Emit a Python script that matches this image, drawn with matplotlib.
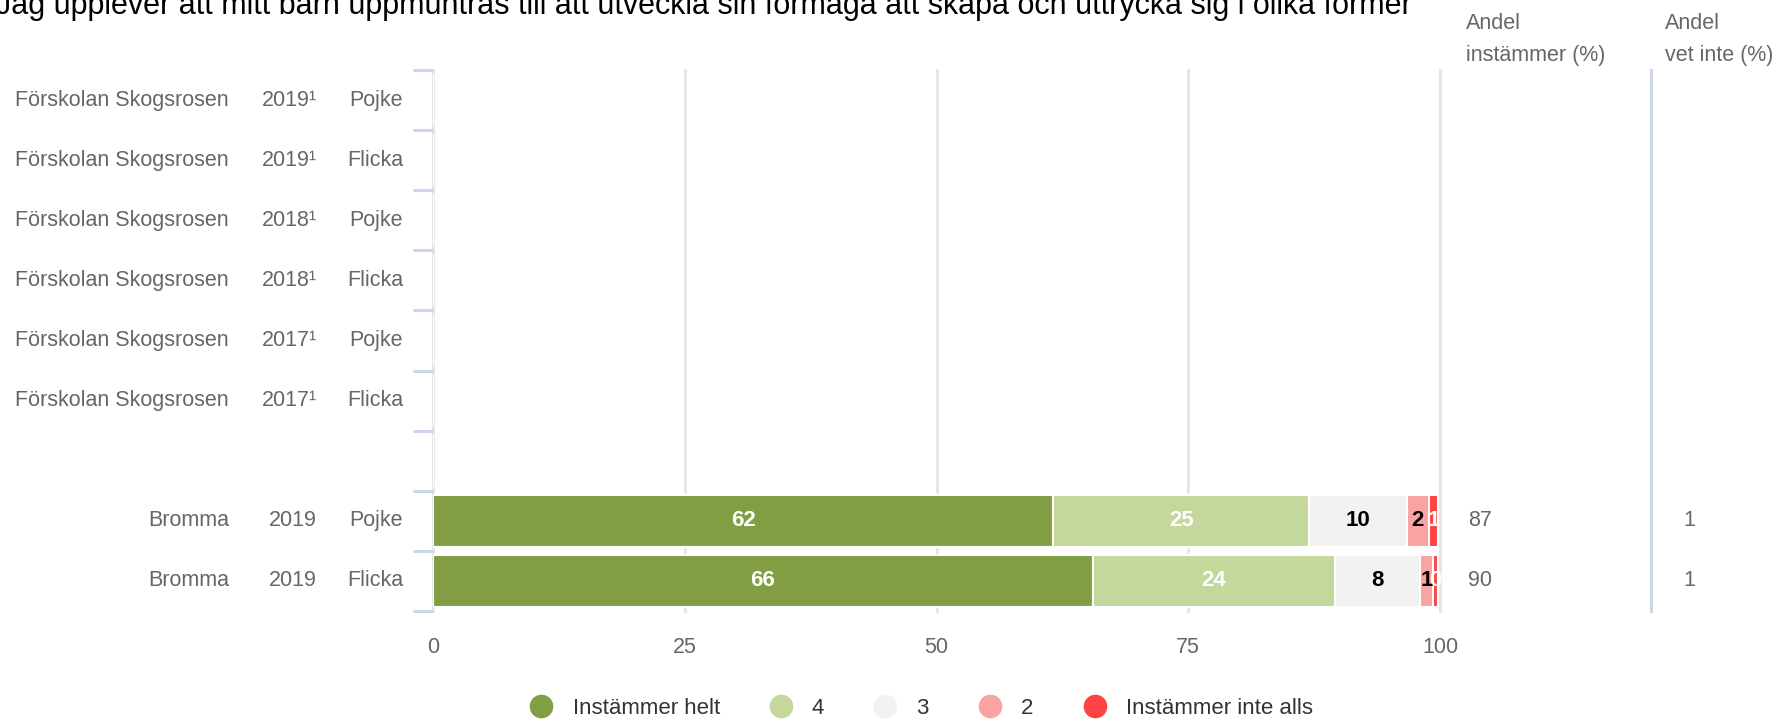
import matplotlib.pyplot as plt
import numpy as np

plt.rcParams['font.family'] = ['Liberation Sans', 'DejaVu Sans']

title = ('Jag upplever att mitt barn uppmuntras till att utveckla sin förmåga '
         'att skapa och uttrycka sig i olika former')

# rows top to bottom, one empty spacer row
row_place = ['Förskolan Skogsrosen'] * 6 + ['', 'Bromma', 'Bromma']
row_year = ['2019¹', '2019¹', '2018¹', '2018¹', '2017¹', '2017¹', '', '2019', '2019']
row_sex = ['Pojke', 'Flicka', 'Pojke', 'Flicka', 'Pojke', 'Flicka', '', 'Pojke', 'Flicka']

nan = np.nan
helt = [nan] * 7 + [61.6, 65.5]
s4 = [nan] * 7 + [25.4, 24.1]
s3 = [nan] * 7 + [9.7, 8.4]
s2 = [nan] * 7 + [2.2, 1.3]
inte = [nan] * 7 + [0.9, 0.5]

andel_instammer = [''] * 7 + ['87', '90']
andel_vet_inte = [''] * 7 + ['1', '1']

series_names = ['Instämmer helt', '4', '3', '2', 'Instämmer inte alls']
colors = ['#819e43', '#c5d89c', '#f2f2f2', '#f9a3a3', '#ff4343']
label_colors = ['white', 'white', 'black', 'black', 'white']

fs = 15.5
grey = '#666666'

fig = plt.figure(figsize=(17.89, 7.2), dpi=100)
ax = fig.add_axes([433 / 1789, 1 - 611 / 720, (1440 - 433) / 1789, (611 - 70) / 720])

y = np.arange(len(row_place))
left = np.zeros(len(y))
handles = []
for vals, name, col, lc in zip([helt, s4, s3, s2, inte], series_names, colors, label_colors):
    v = np.array(vals, dtype=float)
    vv = np.nan_to_num(v)
    ax.barh(y, vv, left=left, height=0.86, color=col, edgecolor='white', linewidth=1.5)
    for yi, (l, w) in enumerate(zip(left, v)):
        if not np.isnan(w):
            ax.text(l + w / 2, yi, f'{w:.0f}', ha='center', va='center',
                    color=lc, fontsize=16, fontweight='bold')
    left = left + vv
    handles.append(plt.Line2D([], [], marker='o', linestyle='', markersize=16,
                              markerfacecolor=col, markeredgecolor=col, label=name))

ax.set_xlim(0, 100)
ax.set_ylim(len(y) - 0.5, -0.5)
ax.set_xticks([0, 25, 50, 75, 100])
ax.tick_params(axis='x', length=0, pad=19, labelsize=fs, labelcolor=grey)
ax.set_yticks(np.arange(len(y) + 1) - 0.5)
ax.set_yticklabels([])
ax.tick_params(axis='y', length=14.4, width=2.2, color='#ccd6eb', direction='out')
for s in ax.spines.values():
    s.set_visible(False)
ax.xaxis.grid(True, color='#e6e6e6', linewidth=2.2)
ax.set_axisbelow(True)
for gl in ax.get_xgridlines():
    gl.set_clip_on(False)

# row labels
tr = ax.get_yaxis_transform()
for yi in y:
    ax.text(-0.2027, yi, row_place[yi], transform=tr, ha='right', va='center',
            fontsize=fs, color=grey)
    ax.text(-0.1153, yi, row_year[yi], transform=tr, ha='right', va='center',
            fontsize=fs, color=grey)
    ax.text(-0.0298, yi, row_sex[yi], transform=tr, ha='right', va='center',
            fontsize=fs, color=grey)
    ax.text(102.8, yi, andel_instammer[yi], ha='left', va='center',
            fontsize=fs, color=grey, clip_on=False)
    ax.text(124.2, yi, andel_vet_inte[yi], ha='left', va='center',
            fontsize=fs, color=grey, clip_on=False)

# right-hand columns
ax.axvline(121.0, color='#ccd6eb', linewidth=2.2, clip_on=False)
ax.text(102.6, -0.57, 'Andel\ninstämmer (%)', ha='left', va='bottom',
        fontsize=fs, color=grey, linespacing=1.7, clip_on=False)
ax.text(122.3, -0.57, 'Andel\nvet inte (%)', ha='left', va='bottom',
        fontsize=fs, color=grey, linespacing=1.7, clip_on=False)

fig.text(-0.002, 1 - 14 / 720, title, ha='left', va='baseline', fontsize=22, color='black')

fig.legend(handles=handles, loc='center', bbox_to_anchor=(0.512, 1 - 708 / 720),
           ncol=5, frameon=False, fontsize=16, handletextpad=0.4, columnspacing=1.75,
           labelcolor='#333333')

fig.savefig('out.png', dpi=100)
